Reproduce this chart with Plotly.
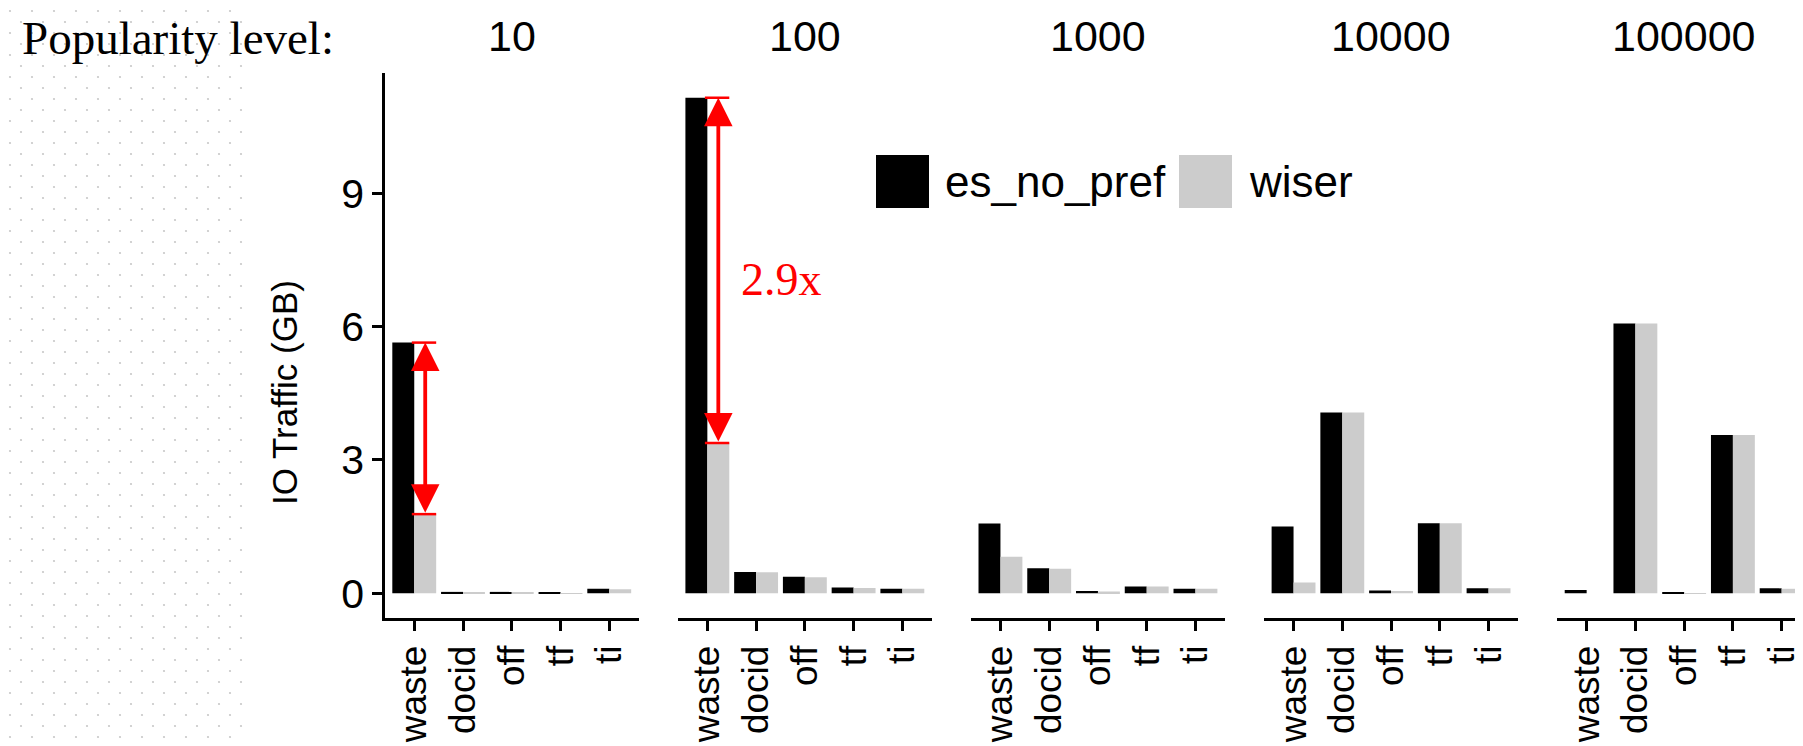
import base64
import plotly.graph_objects as go

# ---------------- data ----------------
levels = ["10", "100", "1000", "10000", "100000"]
components = ["waste", "docid", "off", "tf", "ti"]

es_no_pref_10 = [5.64, 0.03, 0.03, 0.015, 0.10]
wiser_10 = [1.78, 0.02, 0.02, 0.005, 0.09]
es_no_pref_100 = [11.15, 0.48, 0.37, 0.13, 0.10]
wiser_100 = [3.38, 0.47, 0.36, 0.12, 0.10]
es_no_pref_1000 = [1.57, 0.56, 0.05, 0.15, 0.10]
wiser_1000 = [0.82, 0.55, 0.04, 0.15, 0.10]
es_no_pref_10000 = [1.50, 4.07, 0.06, 1.575, 0.11]
wiser_10000 = [0.24, 4.07, 0.05, 1.575, 0.11]
es_no_pref_100000 = [0.075, 6.07, 0.015, 3.56, 0.11]
wiser_100000 = [0.0, 6.07, 0.005, 3.56, 0.10]

series_names = ["es_no_pref", "wiser"]
series_colors = ["#000000", "#cccccc"]
y_ticks = [0, 3, 6, 9]
ratio_label = "2.9x"

es_all = [es_no_pref_10, es_no_pref_100, es_no_pref_1000, es_no_pref_10000, es_no_pref_100000]
wi_all = [wiser_10, wiser_100, wiser_1000, wiser_10000, wiser_100000]

# ---------------- geometry ----------------
W, H = 1803, 746
ML, MR, MT, MB = 377, 0, 65, 136
PW = W - ML - MR
PH = H - MT - MB
panel_w = 253.5
panel_step = 293.1


def px2x(px):
    return (px - ML) / PW


def py2y(py):
    return (H - MB - py) / PH


ymax = max(max(v) for v in es_all + wi_all)
pad = ymax * 0.05
y_range = [-pad, ymax + pad]

SANS = "Liberation Sans, Arial, Helvetica, sans-serif"
SERIF = "Liberation Serif, Times New Roman, serif"

fig = go.Figure()
layout = dict(
    width=W, height=H,
    margin=dict(l=ML, r=MR, t=MT, b=MB, pad=0),
    paper_bgcolor="white", plot_bgcolor="white",
    barmode="group", bargap=0.1, bargroupgap=0.0,
    showlegend=False,
)

for k, lvl in enumerate(levels):
    xa = "x" if k == 0 else f"x{k+1}"
    ya = "y" if k == 0 else f"y{k+1}"
    for s, vals in enumerate([es_all[k], wi_all[k]]):
        fig.add_trace(go.Bar(
            x=components, y=vals, name=series_names[s],
            marker=dict(color=series_colors[s], line=dict(width=0)),
            xaxis=xa, yaxis=ya, showlegend=False, offsetgroup=str(s),
        ))
    d0 = px2x(ML + k * panel_step)
    d1 = min(1.0, px2x(ML + k * panel_step + panel_w))
    layout["xaxis" if k == 0 else f"xaxis{k+1}"] = dict(
        domain=[d0, d1], anchor=ya, type="category",
        categoryorder="array", categoryarray=components,
        range=[-0.6, len(components) - 0.4],
        showline=True, linecolor="black", linewidth=2.6,
        ticks="outside", ticklen=10, tickwidth=2.6, tickcolor="black",
        tickangle=-90, tickfont=dict(family=SANS, size=37, color="black"),
        showgrid=False, zeroline=False, fixedrange=True,
    )
    ydict = dict(
        domain=[0, 1], anchor=xa, range=y_range,
        showgrid=False, zeroline=False, fixedrange=True,
    )
    if k == 0:
        ydict.update(
            showline=True, linecolor="black", linewidth=2.6,
            ticks="outside", ticklen=10, tickwidth=2.6, tickcolor="black",
            tickvals=y_ticks, ticktext=[str(t) for t in y_ticks],
            tickfont=dict(family=SANS, size=41, color="black"),
        )
    else:
        ydict.update(showline=False, showticklabels=False, ticks="")
    layout["yaxis" if k == 0 else f"yaxis{k+1}"] = ydict

annotations = []
shapes = []

# panel titles
for k, lvl in enumerate(levels):
    cx = ML + k * panel_step + panel_w / 2
    annotations.append(dict(
        text=lvl, xref="paper", yref="paper", x=px2x(cx), y=py2y(28),
        xanchor="center", yanchor="middle", showarrow=False,
        font=dict(family=SANS, size=43, color="black"),
    ))

annotations.append(dict(
    text="Popularity level:", xref="paper", yref="paper", x=px2x(12), y=py2y(30),
    xanchor="left", yanchor="middle", showarrow=False,
    font=dict(family=SERIF, size=47, color="black"),
))

# y title
annotations.append(dict(
    text="IO Traffic (GB)", xref="paper", yref="paper", x=px2x(276), y=py2y(385),
    xanchor="center", yanchor="middle", showarrow=False, textangle=-90,
    font=dict(family=SANS, size=35, color="black"),
))

# red arrows on waste category (panels 10 and 100)
RED = "#ff0000"
for k in [0, 1]:
    xa = "x" if k == 0 else f"x{k+1}"
    ya = "y" if k == 0 else f"y{k+1}"
    top = es_all[k][0]
    bot = wi_all[k][0]
    xc = 0.225
    annotations.append(dict(
        x=xc, y=top, ax=xc, ay=bot, xref=xa, yref=ya, axref=xa, ayref=ya,
        text="", showarrow=True, arrowhead=2, startarrowhead=2,
        arrowside="end+start", arrowsize=1.5, startarrowsize=1.5,
        arrowwidth=3.8, arrowcolor=RED, standoff=0, startstandoff=0,
    ))
    for yv in [top, bot]:
        shapes.append(dict(
            type="line", xref=xa, yref=ya, x0=-0.05, x1=0.45, y0=yv, y1=yv,
            line=dict(color=RED, width=2.5),
        ))

annotations.append(dict(
    text=ratio_label, xref="x2", yref="y2", x=1.52, y=7.05,
    xanchor="center", yanchor="middle", showarrow=False,
    font=dict(family=SERIF, size=46, color=RED),
))

# custom legend
leg_keys = [(868, 921), (1171, 1224)]
leg_text_x = [935, 1239]
for s in range(2):
    shapes.append(dict(
        type="rect", xref="paper", yref="paper",
        x0=px2x(leg_keys[s][0]), x1=px2x(leg_keys[s][1]),
        y0=py2y(200), y1=py2y(147),
        fillcolor=series_colors[s], line=dict(width=0),
    ))
    annotations.append(dict(
        text=series_names[s], xref="paper", yref="paper",
        x=px2x(leg_text_x[s]), y=py2y(174), xanchor="left", yanchor="middle",
        showarrow=False, font=dict(family=SANS, size=44, color="black"),
    ))

# dotted texture on the left margin
svg = ('<svg xmlns="http://www.w3.org/2000/svg" width="236" height="746">'
       '<defs><pattern id="p" width="22" height="22" patternUnits="userSpaceOnUse">'
       '<circle cx="2" cy="3" r="1.1" fill="#c8c8c8"/>'
       '<circle cx="13" cy="14" r="1.1" fill="#c8c8c8"/></pattern></defs>'
       '<rect width="236" height="746" fill="url(#p)"/></svg>')
src = "data:image/svg+xml;base64," + base64.b64encode(svg.encode()).decode()
layout["images"] = [dict(
    source=src, xref="paper", yref="paper", x=px2x(0), y=py2y(0),
    sizex=236 / PW, sizey=746 / PH, sizing="stretch",
    xanchor="left", yanchor="top", layer="below",
)]

layout["annotations"] = annotations
layout["shapes"] = shapes
fig.update_layout(**layout)
fig.write_html("out.html")
